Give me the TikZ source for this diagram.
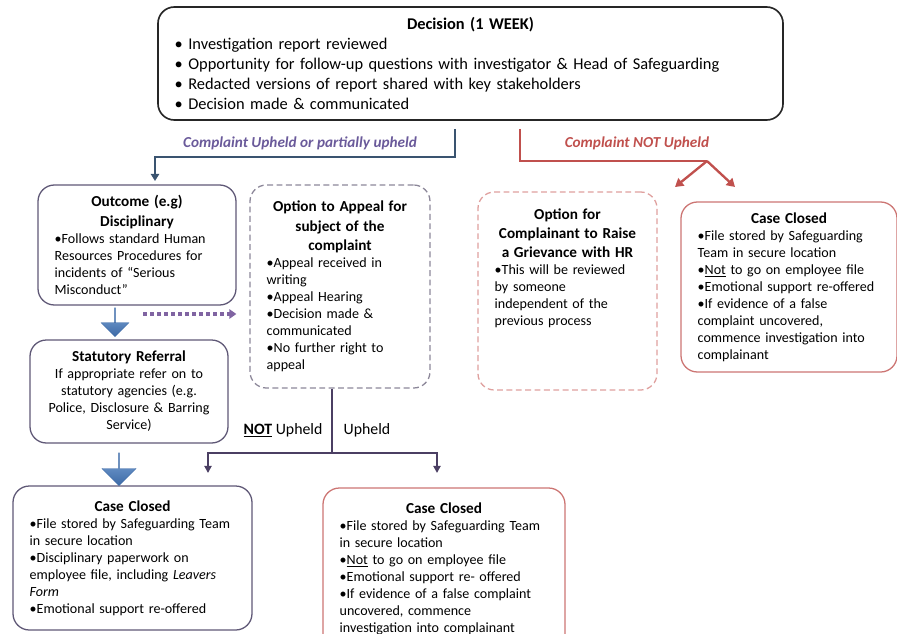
\documentclass[tikz,border=0pt]{standalone}
\usepackage{fontspec}
\setmainfont{Carlito}
\usetikzlibrary{arrows.meta,shapes.arrows}

\definecolor{decline}{HTML}{262626}
\definecolor{slateline}{HTML}{5F5876}
\definecolor{greyline}{HTML}{8C8799}
\definecolor{redline}{HTML}{CC7573}
\definecolor{pinkline}{HTML}{DFA09E}
\definecolor{upblue}{HTML}{3A5470}
\definecolor{notred}{HTML}{C0504D}
\definecolor{uppurple}{HTML}{6A5A9A}
\definecolor{appealpurple}{HTML}{4B3F63}
\definecolor{dotpurple}{HTML}{8064A2}
\definecolor{blocktop}{HTML}{7FA7D9}
\definecolor{blockbot}{HTML}{3D6AA6}

\newcommand{\bul}{\textbullet}
\newcommand{\boxhead}[1]{{\centering\fontsize{13}{16.5}\selectfont\bfseries #1\par}}

\begin{document}
\begin{tikzpicture}[x=0.03cm, y=-0.03cm,
    every node/.style={font=\fontsize{12}{14.5}\selectfont},
    box/.style={rectangle, rounded corners=14pt, line width=1.1pt, inner xsep=0.5cm, inner ysep=3pt, execute at begin node=\raggedright},
    decbox/.style={box, draw=decline, line width=1.4pt, font=\fontsize{14}{17}\selectfont},
    slatebox/.style={box, draw=slateline},
    greydash/.style={box, draw=greyline, dash pattern=on 5pt off 3pt},
    reddash/.style={box, draw=pinkline, dash pattern=on 5pt off 3pt},
    redbox/.style={box, draw=redline},
    blockarrow/.style={single arrow, shape border rotate=270, inner sep=0pt, top color=blocktop, bottom color=blockbot, draw=blockbot, line width=0.3pt},
    upline/.style={draw=upblue, line width=2pt, -{Triangle[length=6pt,width=7pt]}},
    notline/.style={draw=notred, line width=2pt},
    appealline/.style={draw=appealpurple, line width=1.6pt},
    dotarrow/.style={draw=dotpurple, line width=3.5pt, dash pattern=on 3.5pt off 2.5pt, -{Triangle[length=6pt,width=8pt]}}]

  \useasboundingbox (0,0) rectangle (897,633);
  \clip (0,0) rectangle (897,633);

  % boxes
  \node[decbox, minimum width=18.75cm, minimum height=3.39cm, text width=17.75cm] (decision) at (470.5,63.5)
    {{\centering\bfseries Decision (1 WEEK)\par}
     \bul\ Investigation report reviewed\\
     \bul\ Opportunity for follow-up questions with investigator \& Head of Safeguarding\\
     \bul\ Redacted versions of report shared with key stakeholders\\
     \bul\ Decision made \& communicated};

  \node[slatebox, minimum width=5.94cm, minimum height=3.6cm, text width=4.94cm] (outcome) at (137,245)
    {\boxhead{Outcome (e.g)\\ Disciplinary}
     \bul Follows standard Human\\ Resources Procedures for\\ incidents of ``Serious\\ Misconduct''};

  \node[slatebox, minimum width=5.94cm, minimum height=3.09cm, text width=4.94cm] (statutory) at (129,391.5)
    {\boxhead{Statutory Referral}
     {\centering If appropriate refer on to\\ statutory agencies (e.g.\\ Police, Disclosure \& Barring\\ Service)\par}};

  \node[greydash, minimum width=5.4cm, minimum height=6.09cm, text width=4.4cm] (appeal) at (340,286.5)
    {\boxhead{Option to Appeal for\\ subject of the\\ complaint}
     \bul Appeal received in\\ writing\\
     \bul Appeal Hearing\\
     \bul Decision made \&\\ communicated\\
     \bul No further right to\\ appeal};

  \node[reddash, minimum width=5.37cm, minimum height=5.94cm, text width=4.37cm] (grievance) at (567.5,291)
    {\boxhead{Option for\\ Complainant to Raise\\ a Grievance with HR}
     \bul This will be reviewed\\ by someone\\ independent of the\\ previous process\par\rule{0pt}{38pt}};

  \node[redbox, minimum width=6.48cm, minimum height=5.1cm, text width=5.48cm] (closedright) at (789,287)
    {\boxhead{Case Closed}
     \bul File stored by Safeguarding\\ Team in secure location\\
     \bul\underline{Not} to go on employee file\\
     \bul Emotional support re-offered\\
     \bul If evidence of a false\\ complaint uncovered,\\ commence investigation into\\ complainant};

  \node[slatebox, minimum width=7.17cm, minimum height=4.32cm, text width=6.17cm] (closedleft) at (132.5,558)
    {\boxhead{Case Closed}
     \bul File stored by Safeguarding Team\\ in secure location\\
     \bul Disciplinary paperwork on\\ employee file, including \textit{Leavers}\\ \textit{Form}\\
     \bul Emotional support re-offered};

  \node[redbox, minimum width=7.26cm, minimum height=4.86cm, text width=6.26cm] (closedmid) at (444,569)
    {\boxhead{Case Closed}
     \bul File stored by Safeguarding Team\\ in secure location\\
     \bul\underline{Not} to go on employee file\\
     \bul Emotional support re- offered\\
     \bul If evidence of a false complaint\\ uncovered, commence\\ investigation into complainant};

  % block arrows
  \node[blockarrow, minimum height=0.87cm, minimum width=0.84cm, single arrow head extend=0.18cm] (blockone) at (115,322) {};
  \node[blockarrow, minimum height=0.98cm, minimum width=1.02cm, single arrow head extend=0.24cm] (blocktwo) at (119,469) {};

  % labels
  \node[text=uppurple, font=\fontsize{13}{15}\selectfont\bfseries\itshape] (uplabel) at (300,143) {Complaint Upheld or partially upheld};
  \node[text=notred, font=\fontsize{13}{15}\selectfont\bfseries\itshape] (notlabel) at (637,143) {Complaint NOT Upheld};
  \node[font=\fontsize{13.5}{15}\selectfont] (appealnot) at (283,430) {\underline{\textbf{NOT}} Upheld};
  \node[font=\fontsize{13.5}{15}\selectfont] (appealyes) at (367,430) {Upheld};

  % connectors
  \coordinate (upbend) at (455,157);
  \coordinate (uptip) at (155,181);
  \draw[upline, shorten <=0.24cm] (decision.south -| upbend) -- (upbend) -| (uptip);

  \coordinate (redbend) at (520,161);
  \coordinate (apex) at (707,161);
  \coordinate (griefip) at (675,187);
  \coordinate (closetip) at (735,187);
  \draw[notline, shorten <=0.24cm] (decision.south -| redbend) -- (redbend) -- (apex);
  \draw[notline, -{Triangle[length=7pt,width=8pt]}] (apex) -- (griefip);
  \draw[notline, -{Triangle[length=7pt,width=8pt]}] (apex) -- (closetip);

  \coordinate (dotstart) at (143,314);
  \draw[dotarrow, shorten >=0.39cm] (dotstart) -- (appeal.west |- dotstart);

  \coordinate (appealfoot) at (332,453);
  \coordinate (nottip) at (208,473);
  \coordinate (yestip) at (437,473);
  \draw[appealline] (appeal.south -| appealfoot) -- (appealfoot);
  \draw[appealline, -{Triangle[length=6pt,width=6pt]}] (appealfoot) -| (nottip);
  \draw[appealline, -{Triangle[length=6pt,width=6pt]}] (appealfoot) -| (yestip);

\end{tikzpicture}
\end{document}
